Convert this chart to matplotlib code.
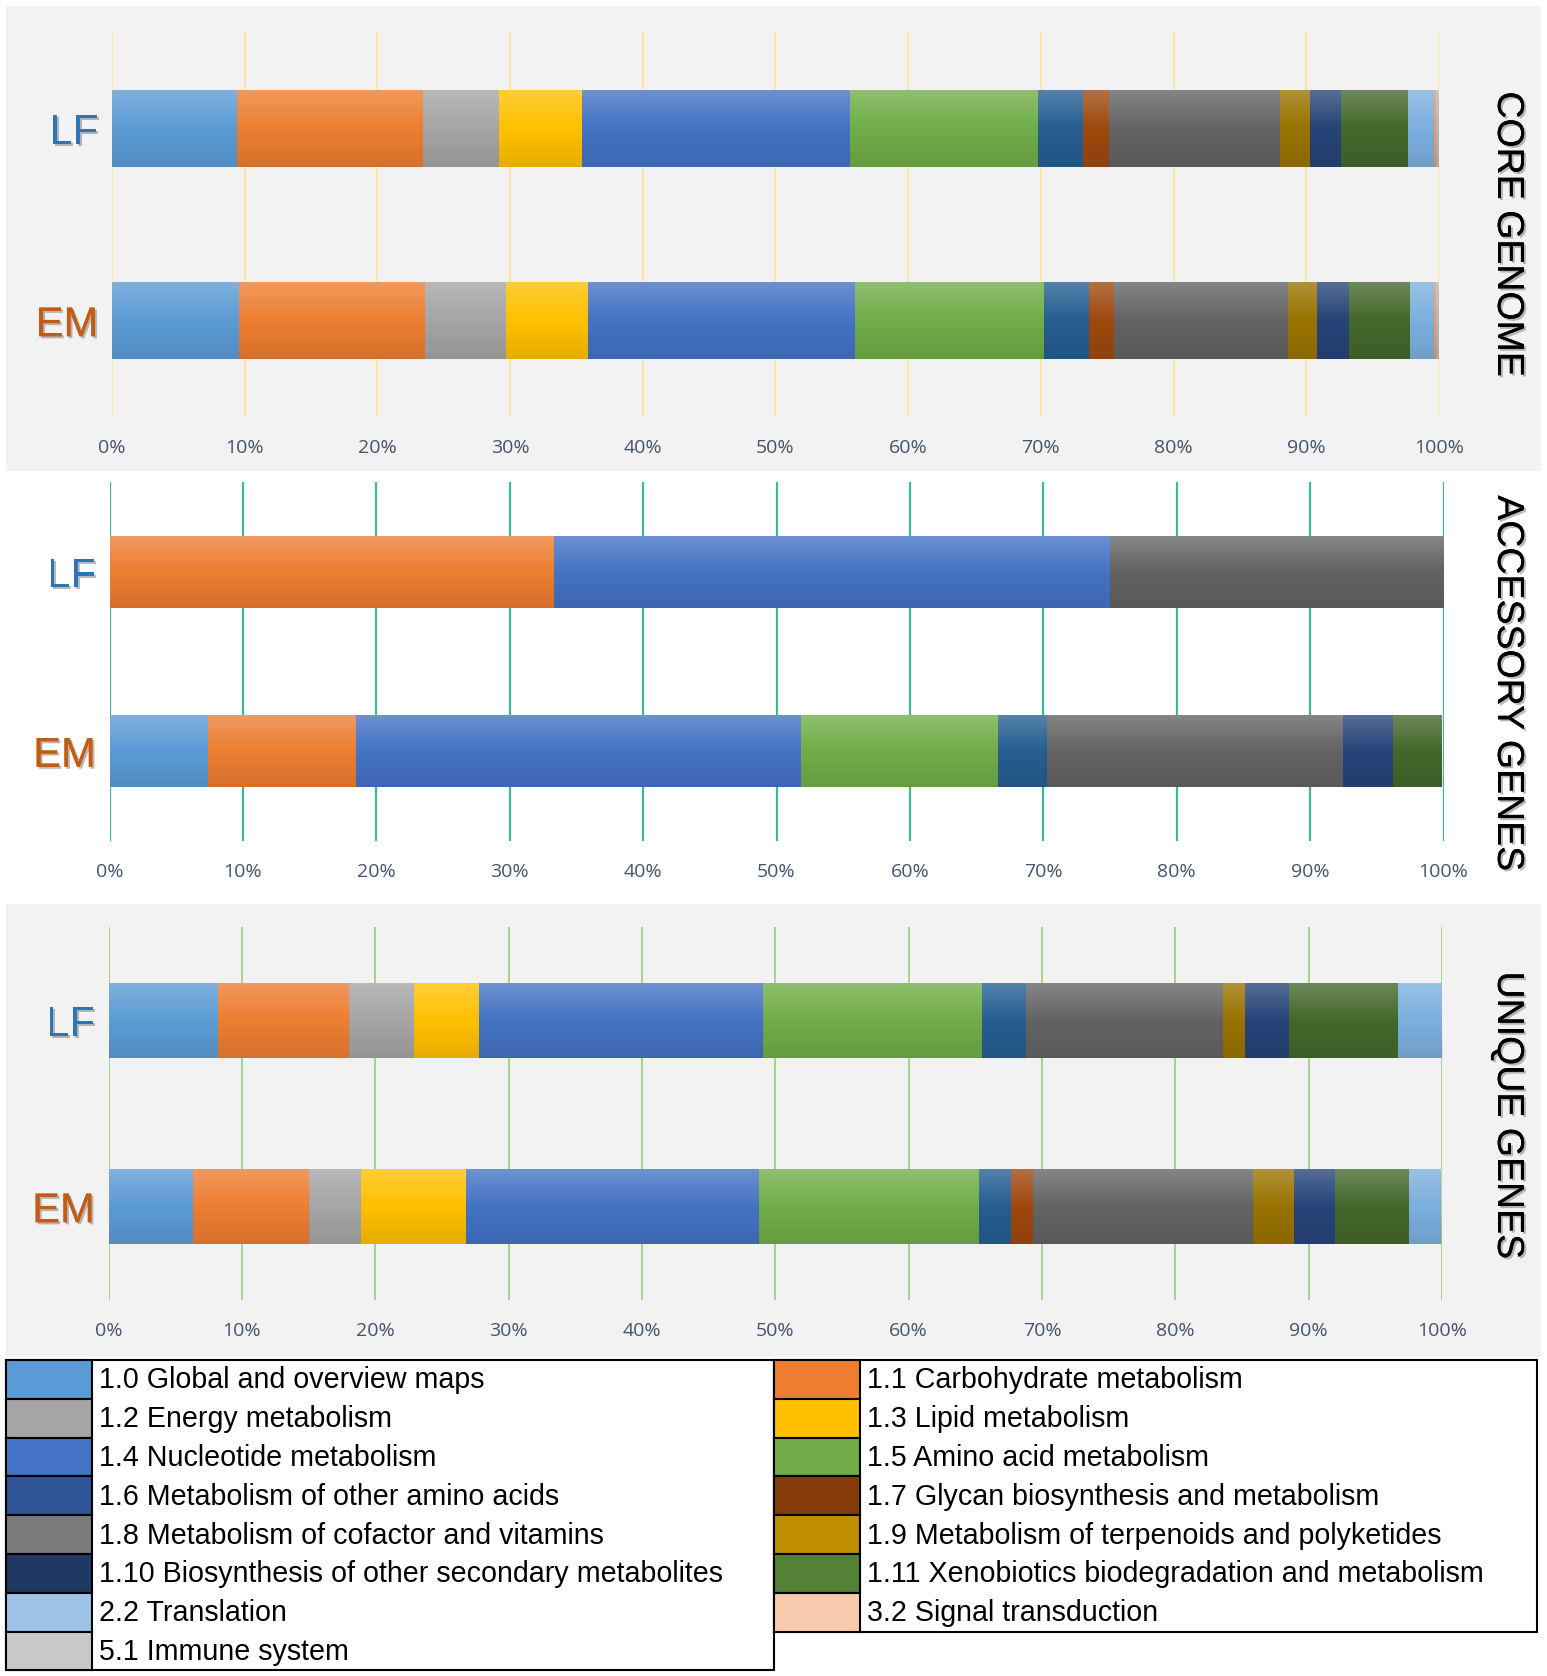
import numpy as np
import matplotlib
matplotlib.use('Agg')
import matplotlib.pyplot as plt
import matplotlib.patheffects as pe
from matplotlib import font_manager
from matplotlib.patches import Rectangle
from matplotlib.ticker import PercentFormatter

# KEGG categories (legend order)
categories = ['1.0 Global and overview maps', '1.1 Carbohydrate metabolism',
              '1.2 Energy metabolism', '1.3 Lipid metabolism',
              '1.4 Nucleotide metabolism', '1.5 Amino acid metabolism',
              '1.6 Metabolism of other amino acids', '1.7 Glycan biosynthesis and metabolism',
              '1.8 Metabolism of cofactor and vitamins', '1.9 Metabolism of terpenoids and polyketides',
              '1.10 Biosynthesis of other secondary metabolites', '1.11 Xenobiotics biodegradation and metabolism',
              '2.2 Translation', '3.2 Signal transduction', '5.1 Immune system']
rows = ['LF', 'EM']

# percentages per category (same order as categories)
core_lf = [9.4, 14.0, 5.8, 6.2, 20.2, 14.2, 3.4, 1.9, 12.9, 2.3, 2.3, 5.1, 1.9, 0.2, 0.3]
core_em = [9.6, 14.0, 6.1, 6.2, 20.1, 14.2, 3.4, 1.9, 13.1, 2.2, 2.4, 4.6, 1.8, 0.2, 0.2]
acc_lf = [0, 33.3, 0, 0, 41.7, 0, 0, 0, 25.0, 0, 0, 0, 0, 0, 0]
acc_em = [7.4, 11.1, 0, 0, 33.3, 14.8, 3.7, 0, 22.2, 0, 3.7, 3.7, 0, 0, 0]
uniq_lf = [8.2, 9.8, 4.9, 4.9, 21.3, 16.4, 3.3, 0, 14.8, 1.6, 3.3, 8.2, 3.3, 0, 0]
uniq_em = [6.3, 8.7, 3.9, 7.9, 22.0, 16.5, 2.4, 1.6, 16.5, 3.1, 3.1, 5.5, 2.4, 0, 0]

bar_colors = ['#5B9BD5', '#ED7D31', '#A5A5A5', '#FFC000', '#4472C4', '#70AD47',
              '#255E91', '#9E480E', '#636363', '#997300', '#264478', '#43682B',
              '#7CAFDD', '#F1975A', '#B7B7B7']
legend_colors = ['#5B9BD5', '#ED7D31', '#A5A5A5', '#FFC000', '#4472C4', '#70AD47',
                 '#2F5496', '#843C0C', '#7B7B7B', '#BF8F00', '#1F3864', '#538135',
                 '#9DC3E6', '#F8CBAD', '#C9C9C9']

W, H = 1547, 1676
fig = plt.figure(figsize=(W/100, H/100), dpi=100)

names = {f.name for f in font_manager.fontManager.ttflist}
narrow = 'Liberation Sans Narrow' in names
title_font = 'Liberation Sans Narrow' if narrow else 'Liberation Sans'
title_size = 32 if narrow else 27
row_size = 36 if narrow else 30

shadow = [pe.withSimplePatchShadow(offset=(1.5, -1.5), shadow_rgbFace='#777777', alpha=0.5), pe.Normal()]

# background canvas in pixel coords
bg = fig.add_axes([0, 0, 1, 1], zorder=-5)
bg.set_xlim(0, W)
bg.set_ylim(H, 0)
bg.axis('off')
bg.add_patch(Rectangle((6, 6), 1535, 465, color='#F2F2F2', lw=0))
bg.add_patch(Rectangle((6, 904), 1535, 453, color='#F2F2F2', lw=0))


def px_axes(x0, x1, y0, y1):
    return fig.add_axes([x0/W, 1-y1/H, (x1-x0)/W, (y1-y0)/H])


def gradient(ax, patches):
    # soft Excel-like vertical shading over each bar row
    n = 64
    t = np.linspace(0, 1, n)
    img = np.zeros((n, 1, 4))
    top = t < 0.5
    img[top, 0, :3] = 1.0
    img[top, 0, 3] = 0.22 * (1 - t[top] / 0.5)
    img[~top, 0, 3] = 0.10 * (t[~top] - 0.5) / 0.5
    ys = sorted({round(p.get_y(), 6) for p in patches})
    for y in ys:
        ps = [p for p in patches if round(p.get_y(), 6) == y]
        hgt = ps[0].get_height()
        x1 = max(p.get_x() + p.get_width() for p in ps)
        ax.imshow(img, extent=(0, x1, y + hgt, y), aspect='auto', zorder=3, interpolation='bilinear')


def panel(ax, lf, em, grid_color, grid_lw):
    ypos = np.arange(len(rows))
    lefts = np.zeros(len(rows))
    patches = []
    for i in range(len(categories)):
        vals = np.array([lf[i], em[i]]) / 100.0
        b = ax.barh(ypos, vals, left=lefts, height=0.4, color=bar_colors[i], linewidth=0, zorder=2)
        patches += [p for p, v in zip(b.patches, vals) if v > 0]
        lefts += vals
    gradient(ax, patches)
    ax.set_xlim(0, 1)
    ax.set_ylim(1.5, -0.5)
    ax.set_facecolor('none')
    for s in ax.spines.values():
        s.set_visible(False)
    ax.set_xticks(np.linspace(0, 1, 11))
    ax.xaxis.set_major_formatter(PercentFormatter(1, decimals=0))
    ax.grid(axis='x', color=grid_color, lw=grid_lw, zorder=0)
    ax.set_axisbelow(True)
    ax.tick_params(axis='x', length=0, pad=16, labelsize=14, labelcolor='#44546A')
    for lab in ax.get_xticklabels():
        lab.set_fontfamily('Open Sans')
    ax.set_yticks(ypos)
    ax.set_yticklabels(rows)
    ax.tick_params(axis='y', length=0, pad=10)
    for lab, c in zip(ax.get_yticklabels(), ['#2E75B6', '#C55A11']):
        lab.set_color(c)
        lab.set_fontsize(row_size)
        lab.set_fontfamily(title_font)
        lab.set_path_effects(shadow)


ax1 = px_axes(112, 1439, 32, 417)
panel(ax1, core_lf, core_em, '#FFE699', 1.3)
ax2 = px_axes(109.5, 1443.5, 482, 841)
panel(ax2, acc_lf, acc_em, '#3DB89C', 1.6)
ax3 = px_axes(108.5, 1442, 927, 1300)
panel(ax3, uniq_lf, uniq_em, '#A9D18E', 1.4)

for txt, y in [('CORE GENOME', 234), ('ACCESSORY GENES', 683), ('UNIQUE GENES', 1115)]:
    fig.text(1508/W, 1-y/H, txt, rotation=270, ha='center', va='center',
             fontsize=title_size, family=title_font, color='black', path_effects=shadow)

# legend: two boxed columns
row_h = 38.8
top = 1360
cols = [(6, 774, categories[0::2], legend_colors[0::2]),
        (774, 1537, categories[1::2], legend_colors[1::2])]
for x0, x1, labs, cols_ in cols:
    n = len(labs)
    bg.add_patch(Rectangle((x0, top), x1 - x0, n*row_h, facecolor='white', edgecolor='black', lw=1.5, zorder=2))
    for k, (lab, c) in enumerate(zip(labs, cols_)):
        y = top + k*row_h
        bg.add_patch(Rectangle((x0, y), 86, row_h, facecolor=c, edgecolor='black', lw=1.5, zorder=3))
        bg.text(x0 + 93, y + row_h/2 + 1, lab, fontsize=20.6, family='Liberation Sans',
                color='black', va='center', ha='left', zorder=4)

fig.savefig('out.png', dpi=100, facecolor='white')
